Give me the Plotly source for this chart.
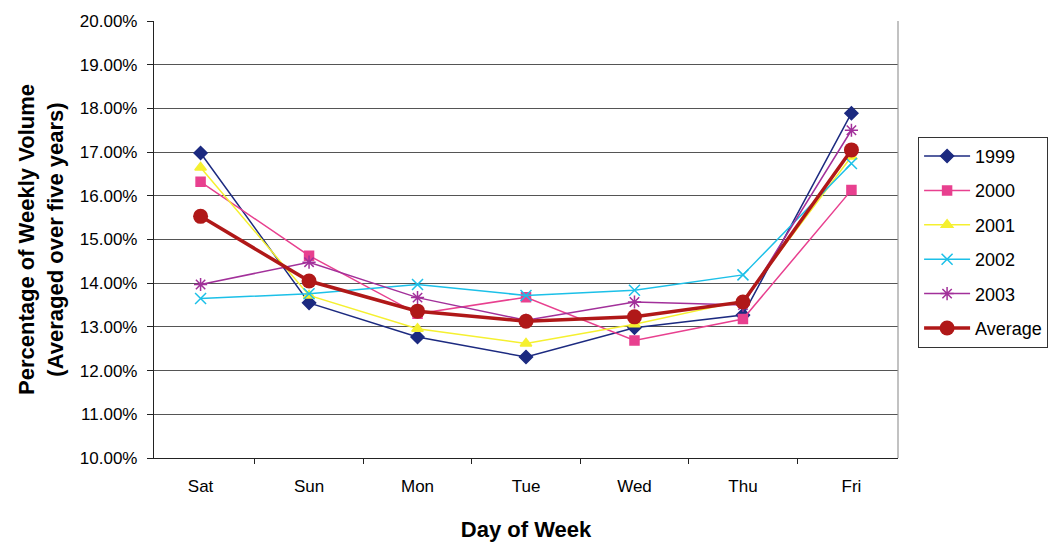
import plotly.graph_objects as go

days = ["Sat", "Sun", "Mon", "Tue", "Wed", "Thu", "Fri"]
y1999 = [16.98, 13.55, 12.77, 12.31, 12.98, 13.27, 17.89]
y2000 = [16.32, 14.63, 13.30, 13.68, 12.69, 13.18, 16.13]
y2001 = [16.65, 13.72, 12.96, 12.62, 13.06, 13.60, 16.90]
y2002 = [13.65, 13.76, 13.97, 13.72, 13.84, 14.19, 16.74]
y2003 = [13.97, 14.48, 13.67, 13.15, 13.57, 13.50, 17.50]
yavg = [15.53, 14.05, 13.36, 13.13, 13.23, 13.57, 17.05]
y_ticks = [10, 11, 12, 13, 14, 15, 16, 17, 18, 19, 20]

series = [
    ("1999", y1999, "#1c2a80", "diamond", 10, 1.5),
    ("2000", y2000, "#e8408f", "square", 9, 1.5),
    ("2001", y2001, "#f5f030", "triangle-up", 10, 1.5),
    ("2002", y2002, "#1cc0e8", "x-thin-open", 11, 1.5),
    ("2003", y2003, "#a2309a", "asterisk-open", 11, 1.5),
]

fig = go.Figure()
for name, ys, col, sym, sz, lw in series:
    fig.add_trace(go.Scatter(
        x=days, y=[v / 100 for v in ys], name=name, mode="lines+markers",
        legendgroup=name,
        line=dict(color=col, width=lw),
        marker=dict(symbol=sym, size=sz, color=col, line=dict(color=col, width=1.5)),
    ))
fig.add_trace(go.Scatter(
    x=days, y=[v / 100 for v in yavg], name="Average", mode="lines+markers",
    legendgroup="Average",
    line=dict(color="#b01818", width=3.5),
    marker=dict(symbol="circle", size=15, color="#b01818"),
))

font = "Liberation Sans, Arial, sans-serif"
fig.update_layout(
    width=1051, height=536,
    margin=dict(l=146, r=161, t=13, b=86, autoexpand=False),
    paper_bgcolor="white", plot_bgcolor="white",
    font=dict(family=font, size=17, color="black"),
    showlegend=True,
    legend=dict(
        x=1.027, y=0.735, xanchor="left", yanchor="top",
        bordercolor="#333", borderwidth=1, font=dict(size=18),
        tracegroupgap=8, itemwidth=46,
    ),
    xaxis=dict(
        title=dict(text="<b>Day of Week</b>", font=dict(size=22), standoff=27),
        showgrid=False, showline=True, linecolor="#222", linewidth=1.2,
        mirror=False, ticks="outside", ticklen=5, tickcolor="#222",
        tickson="boundaries", ticklabelstandoff=12, tickfont=dict(size=17),
        automargin=False,
    ),
    yaxis=dict(
        title=dict(text="<b>Percentage of Weekly Volume<br>(Averaged over five years)</b>",
                   font=dict(size=22), standoff=10),
        range=[0.10, 0.20], tickvals=[t / 100 for t in y_ticks],
        tickformat=".2%", showgrid=True, gridcolor="#555", gridwidth=1.2,
        showline=True, linecolor="#222", linewidth=1.2, mirror=False,
        ticks="outside", ticklen=6, tickcolor="#222", ticklabelstandoff=6,
        tickfont=dict(size=17), zeroline=False, automargin=False,
    ),
    shapes=[dict(type="line", xref="paper", yref="paper", x0=1, x1=1, y0=0, y1=1,
                 line=dict(color="#999", width=1.2))],
)

fig.write_html("out.html")
